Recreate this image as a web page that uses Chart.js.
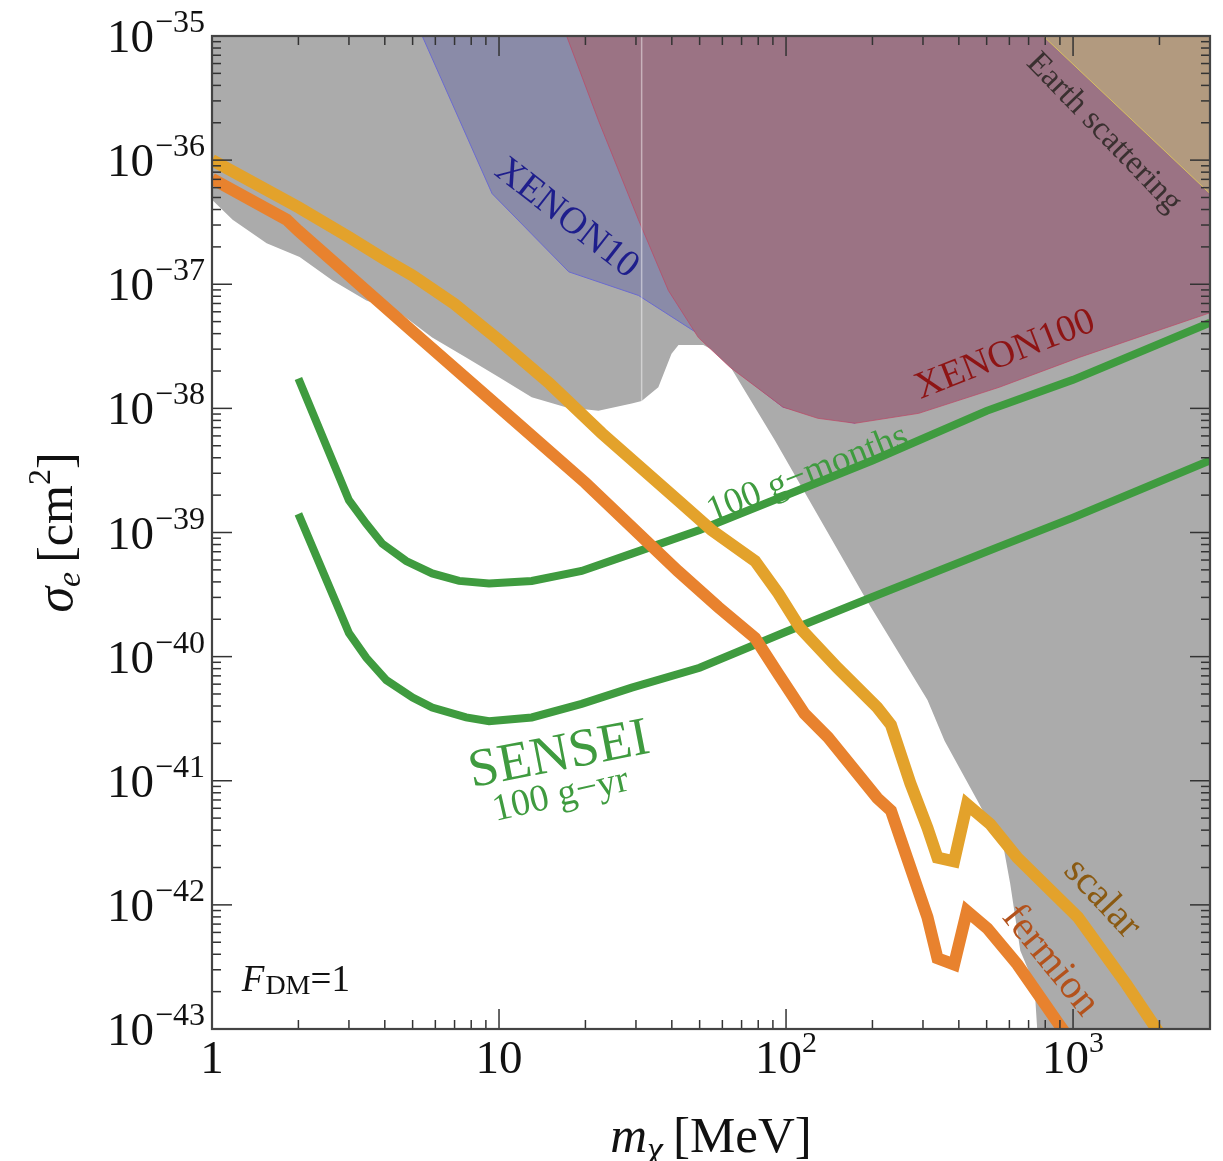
<!DOCTYPE html>
<html>
<head>
<meta charset="utf-8">
<script src="https://cdn.jsdelivr.net/npm/chart.js@4.4.0/dist/chart.umd.min.js"></script>
<style>
  html, body { margin: 0; padding: 0; background: #fff; }
  #wrap { width: 1223px; height: 1161px; position: relative; }
</style>
</head>
<body>
<div id="wrap"><canvas id="sigmaChart"></canvas></div>
<script>
// masses in MeV, cross sections given as log10(sigma_e / cm^2)
const scalarMass = [1, 2, 3, 4, 5, 7, 10, 15, 22.8, 42, 55, 78, 94, 112, 151, 208, 232, 271, 311, 337, 385, 427, 515, 640, 1040, 1535, 1940, 2200];
const scalarLogSigma = [-36.00, -36.38, -36.62, -36.80, -36.93, -37.16, -37.45, -37.80, -38.20, -38.74, -38.98, -39.23, -39.49, -39.77, -40.09, -40.41, -40.55, -41.02, -41.38, -41.62, -41.65, -41.19, -41.35, -41.62, -42.10, -42.64, -42.99, -43.18];

const fermionMass = [1, 1.82, 2, 5, 10, 20, 42, 58, 78, 94, 116, 140, 208, 232, 264, 311, 337, 385, 427, 503, 640, 880, 950];
const fermionLogSigma = [-36.15, -36.48, -36.57, -37.38, -37.99, -38.60, -39.31, -39.60, -39.85, -40.14, -40.46, -40.65, -41.14, -41.24, -41.62, -42.10, -42.43, -42.48, -42.05, -42.19, -42.48, -42.94, -43.05];

const monthsMass = [2, 3, 3.45, 3.92, 4.75, 5.85, 7.26, 9.23, 13, 19.4, 29, 50, 100, 200, 500, 1000, 3000];
const monthsLogSigma = [-37.76, -38.74, -38.93, -39.09, -39.23, -39.33, -39.39, -39.41, -39.39, -39.31, -39.17, -38.98, -38.70, -38.42, -38.02, -37.77, -37.31];

const yearMass = [2, 3, 3.45, 4.05, 5, 5.85, 7.68, 9.23, 13, 19.4, 29, 50, 100, 200, 545, 1000, 3000];
const yearLogSigma = [-38.85, -39.81, -40.01, -40.19, -40.33, -40.41, -40.49, -40.52, -40.49, -40.38, -40.25, -40.09, -39.80, -39.52, -39.12, -38.88, -38.42];

// lower edges of the excluded regions (each is shaded up to the top of the plot)
const greyMass = [1, 1.18, 1.55, 2.02, 2.63, 3.45, 4.5, 5.85, 7.68, 10, 13, 17.1, 22.2, 29, 31.4, 35.9, 39.9, 42.2, 51.5, 54.5, 60.4, 91.6, 188, 311, 357, 464, 575, 604, 655, 733, 750, 3000];
const greyLogSigma = [-36.32, -36.48, -36.67, -36.78, -36.97, -37.13, -37.23, -37.43, -37.59, -37.75, -37.91, -37.99, -38.02, -37.96, -37.94, -37.83, -37.56, -37.49, -37.49, -37.52, -37.57, -38.26, -39.52, -40.35, -40.68, -41.16, -41.56, -41.83, -42.37, -42.64, -43.0, -43.0];

const xenon10Mass = [5.4, 9.46, 17.5, 30.6, 49.5, 68.1, 97.6, 174];
const xenon10LogSigma = [-35.0, -36.27, -36.90, -37.09, -37.40, -37.71, -37.99, -38.12];

const xenon100Mass = [17.2, 22.2, 30.6, 38.9, 49.5, 63.9, 97.6, 129, 174, 290, 553, 1050, 3000];
const xenon100LogSigma = [-35.0, -35.68, -36.48, -37.05, -37.43, -37.67, -37.99, -38.08, -38.12, -38.04, -37.83, -37.59, -37.23];

const earthMass = [787, 3000];
const earthLogSigma = [-35.0, -36.27];

const seamMass = [31.4, 31.4];
const seamLogSigma = [-35.0, -37.94];

const xTickLabels = [['1', ''], ['10', ''], ['10', '2'], ['10', '3']];
const yTickExps = [-35, -36, -37, -38, -39, -40, -41, -42, -43];

// text annotations anchored in data coordinates
const notes = [
  { text: 'XENON10', m: 17.2, ls: -36.47, rot: 38, size: 38, color: '#1e1e8c' },
  { text: 'Earth scattering', m: 1282, ls: -35.78, rot: 46, size: 33, color: '#3a3030' },
  { text: 'XENON100', m: 580, ls: -37.57, rot: -21.5, size: 38, color: '#8e1414' },
  { text: '100 g\u2212months', m: 119, ls: -38.53, rot: -21.5, size: 37, color: '#3f9b3f' },
  { text: 'SENSEI', m: 16.2, ls: -40.80, rot: -11, size: 54, color: '#3f9b3f' },
  { text: '100 g\u2212yr', m: 16.4, ls: -41.12, rot: -13, size: 38, color: '#3f9b3f' },
  { text: 'scalar', m: 1262, ls: -41.95, rot: 47, size: 40, color: '#8a5a12' },
  { text: 'fermion', m: 832, ls: -42.45, rot: 51, size: 41, color: '#b3521c' }
];

const SERIF = '"Liberation Serif", "DejaVu Serif", serif';

function pts(xs, logs) {
  return xs.map((m, i) => ({ x: m, y: Math.pow(10, logs[i]) }));
}

function region(label, xs, logs, fillColor, edge, order) {
  return {
    label: label, data: pts(xs, logs), fill: 'end', backgroundColor: fillColor,
    borderColor: edge, borderWidth: 1, pointRadius: 0, tension: 0, order: order, clip: 0
  };
}

function curve(label, xs, logs, color, width, order) {
  return {
    label: label, data: pts(xs, logs), fill: false, borderColor: color, borderWidth: width,
    borderJoinStyle: 'miter', borderCapStyle: 'butt', pointRadius: 0, tension: 0, order: order, clip: 0
  };
}

// draws pieces of text one after another: {t, size, italic, dy, gap}
function richText(ctx, parts, x, y, align) {
  let total = 0;
  parts.forEach(p => {
    ctx.font = (p.italic ? 'italic ' : '') + p.size + 'px ' + SERIF;
    p.w = ctx.measureText(p.t).width;
    total += p.w + (p.gap || 0);
  });
  let cx = align === 'center' ? x - total / 2 : align === 'right' ? x - total : x;
  ctx.textAlign = 'left';
  ctx.textBaseline = 'alphabetic';
  parts.forEach(p => {
    ctx.font = (p.italic ? 'italic ' : '') + p.size + 'px ' + SERIF;
    ctx.fillText(p.t, cx, y + (p.dy || 0));
    cx += p.w + (p.gap || 0);
  });
}

const decorations = {
  id: 'decorations',
  afterDatasetsDraw(chart) {
    const ctx = chart.ctx, xa = chart.scales.x, ya = chart.scales.y;
    ctx.save();
    notes.forEach(n => {
      const px = xa.getPixelForValue(n.m), py = ya.getPixelForValue(Math.pow(10, n.ls));
      ctx.save();
      ctx.translate(px, py);
      ctx.rotate(n.rot * Math.PI / 180);
      ctx.font = n.size + 'px ' + SERIF;
      ctx.fillStyle = n.color;
      ctx.textAlign = 'center';
      ctx.textBaseline = 'middle';
      ctx.fillText(n.text, 0, 0);
      ctx.restore();
    });
    // F_DM = 1
    ctx.fillStyle = '#111';
    richText(ctx, [
      { t: 'F', size: 37, italic: true, gap: 1 },
      { t: 'DM', size: 28, dy: 3 },
      { t: '=1', size: 37 }
    ], xa.getPixelForValue(1.27), ya.getPixelForValue(Math.pow(10, -42.69)), 'left');
    ctx.restore();
  },
  afterDraw(chart) {
    const ctx = chart.ctx, xa = chart.scales.x, ya = chart.scales.y, ca = chart.chartArea;
    ctx.save();
    ctx.strokeStyle = '#333';
    ctx.lineWidth = 1.5;
    const seg = (x1, y1, x2, y2) => { ctx.beginPath(); ctx.moveTo(x1, y1); ctx.lineTo(x2, y2); ctx.stroke(); };

    // x ticks, top and bottom, pointing inwards
    for (let d = 0; d <= 3; d++) {
      for (let k = 1; k <= 9; k++) {
        const v = k * Math.pow(10, d);
        if (v >= 3000) break;
        const px = xa.getPixelForValue(v);
        const len = k === 1 ? 20 : 9;
        seg(px, ca.bottom, px, ca.bottom - len);
        seg(px, ca.top, px, ca.top + len);
      }
    }
    // y ticks, left and right
    for (let e = -43; e <= -36; e++) {
      for (let k = 1; k <= 9; k++) {
        const py = ya.getPixelForValue(k * Math.pow(10, e));
        const len = k === 1 ? 20 : 9;
        seg(ca.left, py, ca.left + len, py);
        seg(ca.right, py, ca.right - len, py);
      }
    }
    // frame
    ctx.lineWidth = 2.2;
    ctx.strokeStyle = '#444';
    ctx.strokeRect(ca.left, ca.top, ca.right - ca.left, ca.bottom - ca.top);

    // tick labels
    ctx.fillStyle = '#111';
    xTickLabels.forEach((lab, i) => {
      const px = xa.getPixelForValue(Math.pow(10, i));
      const parts = [{ t: lab[0], size: 47 }];
      if (lab[1]) parts.push({ t: lab[1], size: 30, dy: -21 });
      richText(ctx, parts, px, ca.bottom + 44, 'center');
    });
    yTickExps.forEach(e => {
      const py = ya.getPixelForValue(Math.pow(10, e));
      richText(ctx, [
        { t: '10', size: 47, gap: 1 },
        { t: '\u2212' + (-e), size: 32, dy: -20 }
      ], ca.left - 7, py + 16, 'right');
    });

    // axis titles
    richText(ctx, [
      { t: 'm', size: 51, italic: true },
      { t: '\u03c7', size: 36, italic: true, dy: 9, gap: 10 },
      { t: '[MeV]', size: 51 }
    ], (ca.left + ca.right) / 2, ca.bottom + 123, 'center');

    ctx.save();
    ctx.translate(72, (ca.top + ca.bottom) / 2);
    ctx.rotate(-Math.PI / 2);
    richText(ctx, [
      { t: '\u03c3', size: 52, italic: true },
      { t: 'e', size: 34, italic: true, dy: 8, gap: 9 },
      { t: '[cm', size: 50 },
      { t: '2', size: 32, dy: -22 },
      { t: ']', size: 50 }
    ], 0, 0, 'center');
    ctx.restore();
    ctx.restore();
  }
};

const chart = new Chart(document.getElementById('sigmaChart'), {
  type: 'line',
  data: {
    datasets: [
      curve('scalar', scalarMass, scalarLogSigma, '#e3a22b', 12, 1),
      curve('fermion', fermionMass, fermionLogSigma, '#e8822e', 12, 2),
      curve('100 g-months', monthsMass, monthsLogSigma, '#3f9b3f', 8, 3),
      curve('100 g-yr', yearMass, yearLogSigma, '#3f9b3f', 8, 4),
      curve('seam', seamMass, seamLogSigma, 'rgba(255,255,255,0.45)', 1.5, 6),
      region('Earth scattering', earthMass, earthLogSigma, '#b29a7f', '#d8c060', 7),
      region('XENON100', xenon100Mass, xenon100LogSigma, '#9b7384', 'rgba(190,70,100,0.7)', 8),
      region('XENON10', xenon10Mass, xenon10LogSigma, '#8a8ba8', '#6a6ad0', 9),
      region('current limits', greyMass, greyLogSigma, '#ababab', 'rgba(0,0,0,0)', 10)
    ]
  },
  options: {
    responsive: true,
    maintainAspectRatio: false,
    animation: false,
    layout: { padding: { left: 212, right: 13, top: 36, bottom: 132 } },
    plugins: { legend: { display: false }, tooltip: { enabled: false } },
    scales: {
      x: { type: 'logarithmic', min: 1, max: 3000, display: false },
      y: { type: 'logarithmic', min: 1e-43, max: 1e-35, display: false }
    }
  },
  plugins: [decorations]
});
</script>
</body>
</html>
